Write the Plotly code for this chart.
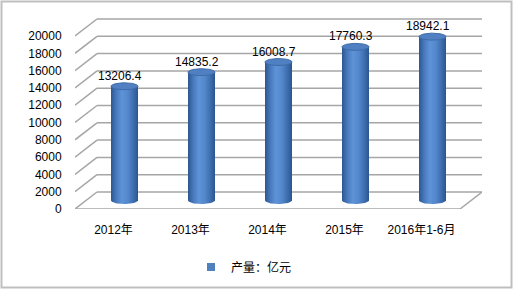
import numpy as np
import plotly.graph_objects as go

categories = ["2012年", "2013年", "2014年", "2015年", "2016年1-6月"]
values = [13206.4, 14835.2, 16008.7, 17760.3, 18942.1]
value_labels = ["13206.4", "14835.2", "16008.7", "17760.3", "18942.1"]
y_ticks = list(range(0, 20001, 2000))
y_tick_labels = [str(v) for v in y_ticks]
series_name = "产量：亿元"

W, H = 514, 290
L, R, T, B = 75, 32, 17, 81
plot_w = W - L - R
plot_h = H - T - B
# depth offsets (3D look)
DX = 22 / 77.0
PXY = 20000 / 173.0  # value units per pixel
DY = 17 * PXY
XMIN, XMAX = -0.5, 4.5 + DX
YMIN, YMAX = 0, plot_h * PXY

grid_col = "#a6a6a6"
font = "Liberation Sans, Arial, Noto Sans CJK SC, sans-serif"

fig = go.Figure()

# back-wall gridlines and left-side diagonals
for v in y_ticks:
    fig.add_shape(type="line", x0=-0.5 + DX, x1=4.5 + DX, y0=v + DY, y1=v + DY,
                  line=dict(color=grid_col, width=1.5), layer="below")
    fig.add_shape(type="line", x0=-0.5, x1=-0.5 + DX, y0=v, y1=v + DY,
                  line=dict(color=grid_col, width=1.5), layer="below")
# floor front & right edges
fig.add_shape(type="line", x0=-0.5, x1=4.5, y0=0, y1=0,
              line=dict(color=grid_col, width=1.5), layer="below")
fig.add_shape(type="line", x0=4.5, x1=4.5 + DX, y0=0, y1=DY,
              line=dict(color=grid_col, width=1.5), layer="below")

# cylinders
RX = 13.5 / 77.0
RY = 3.5 * PXY
t_front = np.linspace(np.pi, 2 * np.pi, 40)   # front half (lower)
t_full = np.linspace(0, 2 * np.pi, 80)
grad = [[0.0, "#2c5690"], [0.18, "#4677ba"], [0.4, "#5e93d8"],
        [0.62, "#5488cc"], [0.85, "#3b6bab"], [1.0, "#2b5590"]]
for i, v in enumerate(values):
    cx = i + DX / 2
    yb = DY / 2
    yt = v + DY / 2
    xs = list(cx + RX * np.cos(t_front)) + [cx + RX, cx - RX, cx - RX]
    ys = list(yb + RY * np.sin(t_front)) + [yt, yt, yb]
    fig.add_trace(go.Scatter(x=xs, y=ys, mode="lines", fill="toself",
                             line=dict(width=0, color="rgba(0,0,0,0)"),
                             fillgradient=dict(type="horizontal", colorscale=grad),
                             hoverinfo="skip", showlegend=False))
    fig.add_trace(go.Scatter(x=cx + RX * np.cos(t_full), y=yt + RY * np.sin(t_full),
                             mode="lines", fill="toself", fillcolor="#5080c2",
                             line=dict(width=1, color="#3e6ca8"),
                             hoverinfo="skip", showlegend=False))

# data labels
fig.add_trace(go.Scatter(x=[i + 0.08 for i in range(len(values))],
                         y=[v + DY + 1 * PXY for v in values],
                         text=value_labels, mode="text", textposition="middle center",
                         textfont=dict(size=12, color="#000000", family=font),
                         hoverinfo="skip", showlegend=False))

# legend entry
fig.add_trace(go.Scatter(x=[None], y=[None], mode="markers", name=series_name,
                         marker=dict(symbol="square", size=8, color="#4f81bd")))

# chart border
fig.add_shape(type="rect", xref="paper", yref="paper",
              x0=(1.5 - L) / plot_w, x1=(W - 2.5 - L) / plot_w,
              y0=-(B - 2.5) / plot_h,
              y1=1 + (T - 1.5) / plot_h,
              line=dict(color="#bfbfbf", width=2))

fig.update_layout(
    width=W, height=H,
    margin=dict(l=L, r=R, t=T, b=B, pad=0, autoexpand=False),
    paper_bgcolor="white", plot_bgcolor="white",
    font=dict(family=font, size=12, color="#000000"),
    xaxis=dict(range=[XMIN, XMAX], tickmode="array", tickvals=list(range(len(categories))),
               ticktext=categories, showgrid=False, zeroline=False, showline=False,
               ticks="outside", ticklen=10, tickcolor="rgba(0,0,0,0)",
               tickfont=dict(size=12), fixedrange=True, automargin=False),
    yaxis=dict(range=[YMIN, YMAX], tickmode="array", tickvals=y_ticks,
               ticktext=y_tick_labels,
               showgrid=False, zeroline=False, showline=False,
               ticks="outside", ticklen=10, tickcolor="rgba(0,0,0,0)",
               tickfont=dict(size=12), fixedrange=True, automargin=False),
    showlegend=True,
    legend=dict(orientation="h", x=(191 - L) / plot_w, xanchor="left",
                y=-(267 - 209) / plot_h, yanchor="middle",
                font=dict(size=12), itemwidth=30, bgcolor="rgba(0,0,0,0)"),
)

fig.write_html("out.html")
